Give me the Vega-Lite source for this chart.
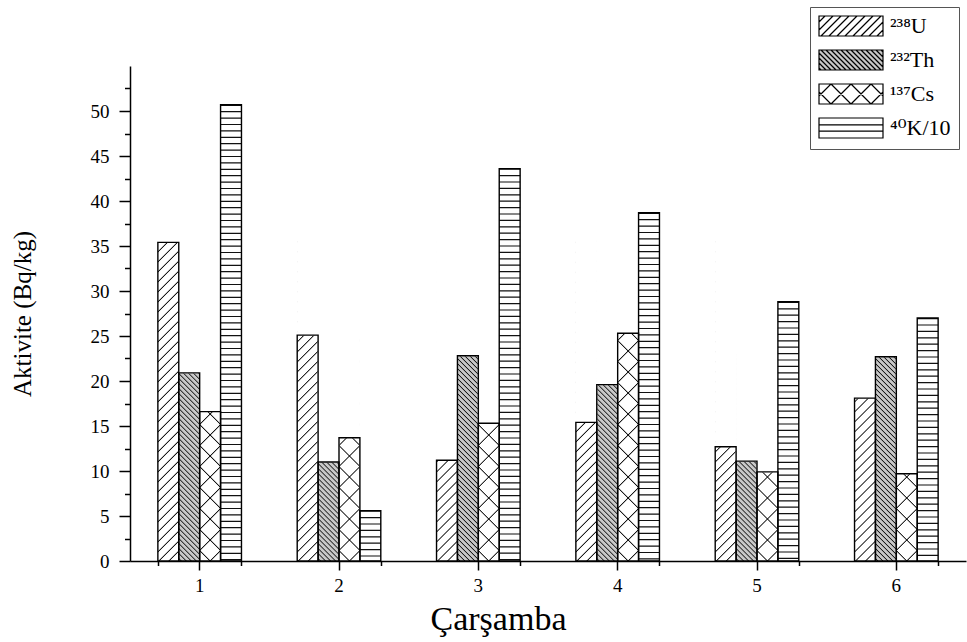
{
  "$schema": "https://vega.github.io/schema/vega-lite/v6.json",
  "width": 836,
  "height": 495,
  "autosize": "none",
  "padding": {"left": 130, "top": 66, "right": 1, "bottom": 81},
  "background": "white",
  "config": {"view": {"stroke": null}, "font": "Liberation Serif"},
  "data": {
    "values": [
      {"site": 1, "series": "²³⁸U", "value": 35.4},
      {"site": 1, "series": "²³²Th", "value": 20.9},
      {"site": 1, "series": "¹³⁷Cs", "value": 16.6},
      {"site": 1, "series": "⁴⁰K/10", "value": 50.7},
      {"site": 2, "series": "²³⁸U", "value": 25.1},
      {"site": 2, "series": "²³²Th", "value": 11.0},
      {"site": 2, "series": "¹³⁷Cs", "value": 13.7},
      {"site": 2, "series": "⁴⁰K/10", "value": 5.6},
      {"site": 3, "series": "²³⁸U", "value": 11.2},
      {"site": 3, "series": "²³²Th", "value": 22.8},
      {"site": 3, "series": "¹³⁷Cs", "value": 15.3},
      {"site": 3, "series": "⁴⁰K/10", "value": 43.6},
      {"site": 4, "series": "²³⁸U", "value": 15.4},
      {"site": 4, "series": "²³²Th", "value": 19.6},
      {"site": 4, "series": "¹³⁷Cs", "value": 25.3},
      {"site": 4, "series": "⁴⁰K/10", "value": 38.7},
      {"site": 5, "series": "²³⁸U", "value": 12.7},
      {"site": 5, "series": "²³²Th", "value": 11.1},
      {"site": 5, "series": "¹³⁷Cs", "value": 9.9},
      {"site": 5, "series": "⁴⁰K/10", "value": 28.8},
      {"site": 6, "series": "²³⁸U", "value": 18.1},
      {"site": 6, "series": "²³²Th", "value": 22.7},
      {"site": 6, "series": "¹³⁷Cs", "value": 9.7},
      {"site": 6, "series": "⁴⁰K/10", "value": 27.0}
    ]
  },
  "layer": [
    {
      "encoding": {
        "x": {
          "field": "site", "type": "ordinal",
          "scale": {"paddingInner": 0.4, "paddingOuter": 0.2},
          "axis": {
            "orient": "bottom", "domain": false, "grid": false,
            "ticks": true, "tickSize": 9, "tickWidth": 1.5, "tickColor": "#000",
            "labelAngle": 0, "labelFontSize": 19, "labelColor": "#000", "labelPadding": 6,
            "title": "Çarşamba", "titleFontSize": 34, "titleFontWeight": "normal", "titleColor": "#000",
            "titleX": 368, "titleY": 68, "titleAlign": "center", "titleBaseline": "alphabetic"
          }
        },
        "xOffset": {
          "field": "series", "type": "nominal",
          "scale": {"domain": ["²³⁸U", "²³²Th", "¹³⁷Cs", "⁴⁰K/10"], "paddingInner": 0, "paddingOuter": 0}
        },
        "y": {
          "field": "value", "type": "quantitative", "stack": null,
          "scale": {"domain": [0, 55], "nice": false, "zero": true},
          "axis": {
            "orient": "left", "values": [0, 5, 10, 15, 20, 25, 30, 35, 40, 45, 50],
            "grid": false, "domain": true, "domainColor": "#000", "domainWidth": 1.5,
            "tickSize": 11, "tickWidth": 1.5, "tickColor": "#000",
            "labelFontSize": 19, "labelColor": "#000", "labelPadding": 10,
            "title": "Aktivite (Bq/kg)", "titleFontSize": 25, "titleFontWeight": "normal", "titleColor": "#000",
            "titleX": -108, "titleY": 247.5, "titleAlign": "center", "titleBaseline": "middle", "titleAngle": 270
          }
        }
      },
      "layer": [
        {
          "transform": [{"filter": "datum.series === '²³⁸U'"}],
          "mark": {
            "type": "bar",
            "fill": {
              "gradient": "linear", "x1": 0, "y1": 0, "x2": 0.06838, "y2": 1.0601,
              "stops": [
                {"offset": 0.0110, "color": "#fff"}, {"offset": 0.0145, "color": "#000"}, {"offset": 0.0180, "color": "#fff"},
                {"offset": 0.0400, "color": "#fff"}, {"offset": 0.0435, "color": "#000"}, {"offset": 0.0470, "color": "#fff"},
                {"offset": 0.0690, "color": "#fff"}, {"offset": 0.0725, "color": "#000"}, {"offset": 0.0760, "color": "#fff"},
                {"offset": 0.0980, "color": "#fff"}, {"offset": 0.1015, "color": "#000"}, {"offset": 0.1050, "color": "#fff"},
                {"offset": 0.1270, "color": "#fff"}, {"offset": 0.1305, "color": "#000"}, {"offset": 0.1340, "color": "#fff"},
                {"offset": 0.1560, "color": "#fff"}, {"offset": 0.1595, "color": "#000"}, {"offset": 0.1630, "color": "#fff"},
                {"offset": 0.1850, "color": "#fff"}, {"offset": 0.1885, "color": "#000"}, {"offset": 0.1920, "color": "#fff"},
                {"offset": 0.2140, "color": "#fff"}, {"offset": 0.2175, "color": "#000"}, {"offset": 0.2210, "color": "#fff"},
                {"offset": 0.2429, "color": "#fff"}, {"offset": 0.2464, "color": "#000"}, {"offset": 0.2499, "color": "#fff"},
                {"offset": 0.2719, "color": "#fff"}, {"offset": 0.2754, "color": "#000"}, {"offset": 0.2789, "color": "#fff"},
                {"offset": 0.3009, "color": "#fff"}, {"offset": 0.3044, "color": "#000"}, {"offset": 0.3079, "color": "#fff"},
                {"offset": 0.3299, "color": "#fff"}, {"offset": 0.3334, "color": "#000"}, {"offset": 0.3369, "color": "#fff"},
                {"offset": 0.3589, "color": "#fff"}, {"offset": 0.3624, "color": "#000"}, {"offset": 0.3659, "color": "#fff"},
                {"offset": 0.3879, "color": "#fff"}, {"offset": 0.3914, "color": "#000"}, {"offset": 0.3949, "color": "#fff"},
                {"offset": 0.4169, "color": "#fff"}, {"offset": 0.4204, "color": "#000"}, {"offset": 0.4239, "color": "#fff"},
                {"offset": 0.4459, "color": "#fff"}, {"offset": 0.4494, "color": "#000"}, {"offset": 0.4529, "color": "#fff"},
                {"offset": 0.4749, "color": "#fff"}, {"offset": 0.4784, "color": "#000"}, {"offset": 0.4819, "color": "#fff"},
                {"offset": 0.5039, "color": "#fff"}, {"offset": 0.5074, "color": "#000"}, {"offset": 0.5109, "color": "#fff"},
                {"offset": 0.5329, "color": "#fff"}, {"offset": 0.5364, "color": "#000"}, {"offset": 0.5399, "color": "#fff"},
                {"offset": 0.5619, "color": "#fff"}, {"offset": 0.5654, "color": "#000"}, {"offset": 0.5689, "color": "#fff"},
                {"offset": 0.5909, "color": "#fff"}, {"offset": 0.5944, "color": "#000"}, {"offset": 0.5979, "color": "#fff"},
                {"offset": 0.6199, "color": "#fff"}, {"offset": 0.6234, "color": "#000"}, {"offset": 0.6269, "color": "#fff"},
                {"offset": 0.6489, "color": "#fff"}, {"offset": 0.6524, "color": "#000"}, {"offset": 0.6559, "color": "#fff"},
                {"offset": 0.6779, "color": "#fff"}, {"offset": 0.6814, "color": "#000"}, {"offset": 0.6849, "color": "#fff"},
                {"offset": 0.7069, "color": "#fff"}, {"offset": 0.7104, "color": "#000"}, {"offset": 0.7139, "color": "#fff"},
                {"offset": 0.7358, "color": "#fff"}, {"offset": 0.7393, "color": "#000"}, {"offset": 0.7428, "color": "#fff"},
                {"offset": 0.7648, "color": "#fff"}, {"offset": 0.7683, "color": "#000"}, {"offset": 0.7718, "color": "#fff"},
                {"offset": 0.7938, "color": "#fff"}, {"offset": 0.7973, "color": "#000"}, {"offset": 0.8008, "color": "#fff"},
                {"offset": 0.8228, "color": "#fff"}, {"offset": 0.8263, "color": "#000"}, {"offset": 0.8298, "color": "#fff"},
                {"offset": 0.8518, "color": "#fff"}, {"offset": 0.8553, "color": "#000"}, {"offset": 0.8588, "color": "#fff"},
                {"offset": 0.8808, "color": "#fff"}, {"offset": 0.8843, "color": "#000"}, {"offset": 0.8878, "color": "#fff"},
                {"offset": 0.9098, "color": "#fff"}, {"offset": 0.9133, "color": "#000"}, {"offset": 0.9168, "color": "#fff"},
                {"offset": 0.9388, "color": "#fff"}, {"offset": 0.9423, "color": "#000"}, {"offset": 0.9458, "color": "#fff"},
                {"offset": 0.9678, "color": "#fff"}, {"offset": 0.9713, "color": "#000"}, {"offset": 0.9748, "color": "#fff"}
              ]
            }
          },
          "encoding": {"y": {"datum": 36}, "y2": {"datum": 0}}
        },
        {
          "transform": [{"filter": "datum.series === '²³²Th'"}],
          "mark": {
            "type": "bar",
            "fill": {
              "gradient": "linear", "x1": 0, "y1": 1, "x2": 0.11004, "y2": -0.08986,
              "stops": [
                {"offset": 0.0060, "color": "#c8c8c8"}, {"offset": 0.0110, "color": "#111"}, {"offset": 0.0160, "color": "#c8c8c8"},
                {"offset": 0.0279, "color": "#c8c8c8"}, {"offset": 0.0329, "color": "#111"}, {"offset": 0.0379, "color": "#c8c8c8"},
                {"offset": 0.0499, "color": "#c8c8c8"}, {"offset": 0.0549, "color": "#111"}, {"offset": 0.0599, "color": "#c8c8c8"},
                {"offset": 0.0718, "color": "#c8c8c8"}, {"offset": 0.0768, "color": "#111"}, {"offset": 0.0818, "color": "#c8c8c8"},
                {"offset": 0.0937, "color": "#c8c8c8"}, {"offset": 0.0987, "color": "#111"}, {"offset": 0.1037, "color": "#c8c8c8"},
                {"offset": 0.1157, "color": "#c8c8c8"}, {"offset": 0.1207, "color": "#111"}, {"offset": 0.1257, "color": "#c8c8c8"},
                {"offset": 0.1376, "color": "#c8c8c8"}, {"offset": 0.1426, "color": "#111"}, {"offset": 0.1476, "color": "#c8c8c8"},
                {"offset": 0.1596, "color": "#c8c8c8"}, {"offset": 0.1646, "color": "#111"}, {"offset": 0.1696, "color": "#c8c8c8"},
                {"offset": 0.1815, "color": "#c8c8c8"}, {"offset": 0.1865, "color": "#111"}, {"offset": 0.1915, "color": "#c8c8c8"},
                {"offset": 0.2034, "color": "#c8c8c8"}, {"offset": 0.2084, "color": "#111"}, {"offset": 0.2134, "color": "#c8c8c8"},
                {"offset": 0.2254, "color": "#c8c8c8"}, {"offset": 0.2304, "color": "#111"}, {"offset": 0.2354, "color": "#c8c8c8"},
                {"offset": 0.2473, "color": "#c8c8c8"}, {"offset": 0.2523, "color": "#111"}, {"offset": 0.2573, "color": "#c8c8c8"},
                {"offset": 0.2693, "color": "#c8c8c8"}, {"offset": 0.2743, "color": "#111"}, {"offset": 0.2793, "color": "#c8c8c8"},
                {"offset": 0.2912, "color": "#c8c8c8"}, {"offset": 0.2962, "color": "#111"}, {"offset": 0.3012, "color": "#c8c8c8"},
                {"offset": 0.3131, "color": "#c8c8c8"}, {"offset": 0.3181, "color": "#111"}, {"offset": 0.3231, "color": "#c8c8c8"},
                {"offset": 0.3351, "color": "#c8c8c8"}, {"offset": 0.3401, "color": "#111"}, {"offset": 0.3451, "color": "#c8c8c8"},
                {"offset": 0.3570, "color": "#c8c8c8"}, {"offset": 0.3620, "color": "#111"}, {"offset": 0.3670, "color": "#c8c8c8"},
                {"offset": 0.3790, "color": "#c8c8c8"}, {"offset": 0.3840, "color": "#111"}, {"offset": 0.3890, "color": "#c8c8c8"},
                {"offset": 0.4009, "color": "#c8c8c8"}, {"offset": 0.4059, "color": "#111"}, {"offset": 0.4109, "color": "#c8c8c8"},
                {"offset": 0.4228, "color": "#c8c8c8"}, {"offset": 0.4278, "color": "#111"}, {"offset": 0.4328, "color": "#c8c8c8"},
                {"offset": 0.4448, "color": "#c8c8c8"}, {"offset": 0.4498, "color": "#111"}, {"offset": 0.4548, "color": "#c8c8c8"},
                {"offset": 0.4667, "color": "#c8c8c8"}, {"offset": 0.4717, "color": "#111"}, {"offset": 0.4767, "color": "#c8c8c8"},
                {"offset": 0.4886, "color": "#c8c8c8"}, {"offset": 0.4936, "color": "#111"}, {"offset": 0.4986, "color": "#c8c8c8"},
                {"offset": 0.5106, "color": "#c8c8c8"}, {"offset": 0.5156, "color": "#111"}, {"offset": 0.5206, "color": "#c8c8c8"},
                {"offset": 0.5325, "color": "#c8c8c8"}, {"offset": 0.5375, "color": "#111"}, {"offset": 0.5425, "color": "#c8c8c8"},
                {"offset": 0.5545, "color": "#c8c8c8"}, {"offset": 0.5595, "color": "#111"}, {"offset": 0.5645, "color": "#c8c8c8"},
                {"offset": 0.5764, "color": "#c8c8c8"}, {"offset": 0.5814, "color": "#111"}, {"offset": 0.5864, "color": "#c8c8c8"},
                {"offset": 0.5983, "color": "#c8c8c8"}, {"offset": 0.6033, "color": "#111"}, {"offset": 0.6083, "color": "#c8c8c8"},
                {"offset": 0.6203, "color": "#c8c8c8"}, {"offset": 0.6253, "color": "#111"}, {"offset": 0.6303, "color": "#c8c8c8"},
                {"offset": 0.6422, "color": "#c8c8c8"}, {"offset": 0.6472, "color": "#111"}, {"offset": 0.6522, "color": "#c8c8c8"},
                {"offset": 0.6642, "color": "#c8c8c8"}, {"offset": 0.6692, "color": "#111"}, {"offset": 0.6742, "color": "#c8c8c8"},
                {"offset": 0.6861, "color": "#c8c8c8"}, {"offset": 0.6911, "color": "#111"}, {"offset": 0.6961, "color": "#c8c8c8"},
                {"offset": 0.7080, "color": "#c8c8c8"}, {"offset": 0.7130, "color": "#111"}, {"offset": 0.7180, "color": "#c8c8c8"},
                {"offset": 0.7300, "color": "#c8c8c8"}, {"offset": 0.7350, "color": "#111"}, {"offset": 0.7400, "color": "#c8c8c8"},
                {"offset": 0.7519, "color": "#c8c8c8"}, {"offset": 0.7569, "color": "#111"}, {"offset": 0.7619, "color": "#c8c8c8"},
                {"offset": 0.7739, "color": "#c8c8c8"}, {"offset": 0.7789, "color": "#111"}, {"offset": 0.7839, "color": "#c8c8c8"},
                {"offset": 0.7958, "color": "#c8c8c8"}, {"offset": 0.8008, "color": "#111"}, {"offset": 0.8058, "color": "#c8c8c8"},
                {"offset": 0.8177, "color": "#c8c8c8"}, {"offset": 0.8227, "color": "#111"}, {"offset": 0.8277, "color": "#c8c8c8"},
                {"offset": 0.8397, "color": "#c8c8c8"}, {"offset": 0.8447, "color": "#111"}, {"offset": 0.8497, "color": "#c8c8c8"},
                {"offset": 0.8616, "color": "#c8c8c8"}, {"offset": 0.8666, "color": "#111"}, {"offset": 0.8716, "color": "#c8c8c8"},
                {"offset": 0.8836, "color": "#c8c8c8"}, {"offset": 0.8886, "color": "#111"}, {"offset": 0.8936, "color": "#c8c8c8"},
                {"offset": 0.9055, "color": "#c8c8c8"}, {"offset": 0.9105, "color": "#111"}, {"offset": 0.9155, "color": "#c8c8c8"},
                {"offset": 0.9274, "color": "#c8c8c8"}, {"offset": 0.9324, "color": "#111"}, {"offset": 0.9374, "color": "#c8c8c8"},
                {"offset": 0.9494, "color": "#c8c8c8"}, {"offset": 0.9544, "color": "#111"}, {"offset": 0.9594, "color": "#c8c8c8"},
                {"offset": 0.9713, "color": "#c8c8c8"}, {"offset": 0.9763, "color": "#111"}, {"offset": 0.9813, "color": "#c8c8c8"}
              ]
            }
          },
          "encoding": {"y": {"datum": 23}, "y2": {"datum": 0}}
        },
        {
          "transform": [{"filter": "datum.series === '¹³⁷Cs'"}],
          "mark": {
            "type": "bar",
            "fill": {
              "gradient": "linear", "x1": 0, "y1": 0, "x2": 0.09652, "y2": 1.08071,
              "stops": [
                {"offset": 0.0481, "color": "#fff"}, {"offset": 0.0528, "color": "#000"}, {"offset": 0.0575, "color": "#fff"},
                {"offset": 0.1305, "color": "#fff"}, {"offset": 0.1352, "color": "#000"}, {"offset": 0.1399, "color": "#fff"},
                {"offset": 0.2128, "color": "#fff"}, {"offset": 0.2175, "color": "#000"}, {"offset": 0.2222, "color": "#fff"},
                {"offset": 0.2952, "color": "#fff"}, {"offset": 0.2999, "color": "#000"}, {"offset": 0.3046, "color": "#fff"},
                {"offset": 0.3776, "color": "#fff"}, {"offset": 0.3823, "color": "#000"}, {"offset": 0.3870, "color": "#fff"},
                {"offset": 0.4600, "color": "#fff"}, {"offset": 0.4647, "color": "#000"}, {"offset": 0.4694, "color": "#fff"},
                {"offset": 0.5424, "color": "#fff"}, {"offset": 0.5471, "color": "#000"}, {"offset": 0.5518, "color": "#fff"},
                {"offset": 0.6248, "color": "#fff"}, {"offset": 0.6295, "color": "#000"}, {"offset": 0.6342, "color": "#fff"},
                {"offset": 0.7071, "color": "#fff"}, {"offset": 0.7118, "color": "#000"}, {"offset": 0.7165, "color": "#fff"},
                {"offset": 0.7895, "color": "#fff"}, {"offset": 0.7942, "color": "#000"}, {"offset": 0.7989, "color": "#fff"},
                {"offset": 0.8719, "color": "#fff"}, {"offset": 0.8766, "color": "#000"}, {"offset": 0.8813, "color": "#fff"},
                {"offset": 0.9543, "color": "#fff"}, {"offset": 0.9590, "color": "#000"}, {"offset": 0.9637, "color": "#fff"}
              ]
            }
          },
          "encoding": {"y": {"datum": 26}, "y2": {"datum": 0}}
        },
        {
          "transform": [{"filter": "datum.series === '¹³⁷Cs'"}],
          "mark": {
            "type": "bar",
            "fill": {
              "gradient": "linear", "x1": 0, "y1": 1, "x2": 0.09652, "y2": -0.08071,
              "stops": [
                {"offset": 0.0363, "color": "rgba(0,0,0,0)"}, {"offset": 0.0410, "color": "#000"}, {"offset": 0.0457, "color": "rgba(0,0,0,0)"},
                {"offset": 0.1187, "color": "rgba(0,0,0,0)"}, {"offset": 0.1234, "color": "#000"}, {"offset": 0.1281, "color": "rgba(0,0,0,0)"},
                {"offset": 0.2011, "color": "rgba(0,0,0,0)"}, {"offset": 0.2058, "color": "#000"}, {"offset": 0.2105, "color": "rgba(0,0,0,0)"},
                {"offset": 0.2835, "color": "rgba(0,0,0,0)"}, {"offset": 0.2882, "color": "#000"}, {"offset": 0.2929, "color": "rgba(0,0,0,0)"},
                {"offset": 0.3658, "color": "rgba(0,0,0,0)"}, {"offset": 0.3705, "color": "#000"}, {"offset": 0.3752, "color": "rgba(0,0,0,0)"},
                {"offset": 0.4482, "color": "rgba(0,0,0,0)"}, {"offset": 0.4529, "color": "#000"}, {"offset": 0.4576, "color": "rgba(0,0,0,0)"},
                {"offset": 0.5306, "color": "rgba(0,0,0,0)"}, {"offset": 0.5353, "color": "#000"}, {"offset": 0.5400, "color": "rgba(0,0,0,0)"},
                {"offset": 0.6130, "color": "rgba(0,0,0,0)"}, {"offset": 0.6177, "color": "#000"}, {"offset": 0.6224, "color": "rgba(0,0,0,0)"},
                {"offset": 0.6954, "color": "rgba(0,0,0,0)"}, {"offset": 0.7001, "color": "#000"}, {"offset": 0.7048, "color": "rgba(0,0,0,0)"},
                {"offset": 0.7778, "color": "rgba(0,0,0,0)"}, {"offset": 0.7825, "color": "#000"}, {"offset": 0.7872, "color": "rgba(0,0,0,0)"},
                {"offset": 0.8602, "color": "rgba(0,0,0,0)"}, {"offset": 0.8649, "color": "#000"}, {"offset": 0.8696, "color": "rgba(0,0,0,0)"},
                {"offset": 0.9425, "color": "rgba(0,0,0,0)"}, {"offset": 0.9472, "color": "#000"}, {"offset": 0.9519, "color": "rgba(0,0,0,0)"}
              ]
            }
          },
          "encoding": {"y": {"datum": 26}, "y2": {"datum": 0}}
        },
        {
          "mark": {"type": "bar", "fill": "#fff", "stroke": "#fff", "strokeWidth": 1},
          "encoding": {"y2": {"datum": 55}}
        },
        {
          "transform": [{"filter": "datum.series === '⁴⁰K/10'"}],
          "mark": {"type": "rule", "color": "#111", "strokeWidth": 20.9, "strokeDash": [1.2, 5.2], "strokeCap": "butt"},
          "encoding": {"y2": {"datum": 0}}
        },
        {
          "mark": {"type": "bar", "fill": "transparent", "stroke": "#000", "strokeWidth": 1.4},
          "encoding": {"y2": {"datum": 0}}
        }
      ]
    },
    {
      "transform": [{"filter": "false"}],
      "mark": {"type": "point", "filled": true, "opacity": 1},
      "encoding": {
        "x": {
          "field": "site", "type": "ordinal",
          "axis": {
            "orient": "bottom", "tickBand": "extent", "grid": false, "labels": false, "title": null,
            "domain": true, "domainColor": "#000", "domainWidth": 1.5,
            "tickSize": 4.5, "tickWidth": 1.5, "tickColor": "#000"
          }
        },
        "y": {
          "field": "value", "type": "quantitative",
          "axis": {
            "orient": "left", "values": [2.5, 7.5, 12.5, 17.5, 22.5, 27.5, 32.5, 37.5, 42.5, 47.5, 52.5],
            "grid": false, "labels": false, "title": null, "domain": false,
            "tickSize": 5.5, "tickWidth": 1.5, "tickColor": "#000"
          }
        },
        "color": {
          "field": "series", "type": "nominal",
          "scale": {"domain": ["²³⁸U", "²³²Th", "¹³⁷Cs", "⁴⁰K/10"], "range": ["#fff", "#c8c8c8", "#fff", "#fff"]},
          "legend": {
            "orient": "none", "legendX": 680, "legendY": -59, "title": null,
            "symbolSize": 400, "symbolOffset": 22, "symbolStrokeColor": "#000", "symbolStrokeWidth": 1.2,
            "labelOffset": 28, "labelFont": "Liberation Serif, DejaVu Serif", "labelFontSize": 22, "labelColor": "#000", "labelLimit": 200,
            "padding": 8, "rowPadding": 8, "strokeColor": "#555",
            "encode": {"symbols": {"update": {"stroke": {"value": "#000"}, "strokeWidth": {"value": 1.2}, "opacity": {"value": 1}}}}
          }
        },
        "shape": {
          "field": "series", "type": "nominal",
          "scale": {
            "domain": ["²³⁸U", "²³²Th", "¹³⁷Cs", "⁴⁰K/10"],
            "range": [
              "M-3.2,-1H3.2V1H-3.2ZM-3.2,-0.4L-2.6,-1M-3.2,0.4L-1.8,-1M-3,1L-1,-1M-2.2,1L-0.2,-1M-1.4,1L0.6,-1M-0.6,1L1.4,-1M0.2,1L2.2,-1M1,1L3,-1M1.8,1L3.2,-0.4M2.6,1L3.2,0.4",
              "M-3.2,-1H3.2V1H-3.2ZM-3.2,0.8L-3,1M-3.2,0.3L-2.5,1M-3.2,-0.2L-2,1M-3.2,-0.7L-1.5,1M-3,-1L-1,1M-2.5,-1L-0.5,1M-2,-1L0,1M-1.5,-1L0.5,1M-1,-1L1,1M-0.5,-1L1.5,1M0,-1L2,1M0.5,-1L2.5,1M1,-1L3,1M1.5,-1L3.2,0.7M2,-1L3.2,0.2M2.5,-1L3.2,-0.3M3,-1L3.2,-0.8",
              "M-3.2,-1H3.2V1H-3.2ZM-3.2,0.2L-2,-1M-2,1L0,-1M0,1L2,-1M2,1L3.2,-0.2M-3.2,-0.2L-2,1M-2,-1L0,1M0,-1L2,1M2,-1L3.2,0.2",
              "M-3.2,-1H3.2V1H-3.2ZM-3.2,-0.32H3.2M-3.2,0.32H3.2"
            ]
          },
          "legend": {
            "orient": "none", "legendX": 680, "legendY": -59, "title": null,
            "symbolSize": 400, "symbolOffset": 22, "symbolStrokeColor": "#000", "symbolStrokeWidth": 1.2,
            "labelOffset": 28, "labelFont": "Liberation Serif, DejaVu Serif", "labelFontSize": 22, "labelColor": "#000", "labelLimit": 200,
            "padding": 8, "rowPadding": 8, "strokeColor": "#555",
            "encode": {"symbols": {"update": {"stroke": {"value": "#000"}, "strokeWidth": {"value": 1.2}, "opacity": {"value": 1}}}}
          }
        }
      }
    }
  ],
  "resolve": {"axis": {"x": "independent", "y": "independent"}}
}
